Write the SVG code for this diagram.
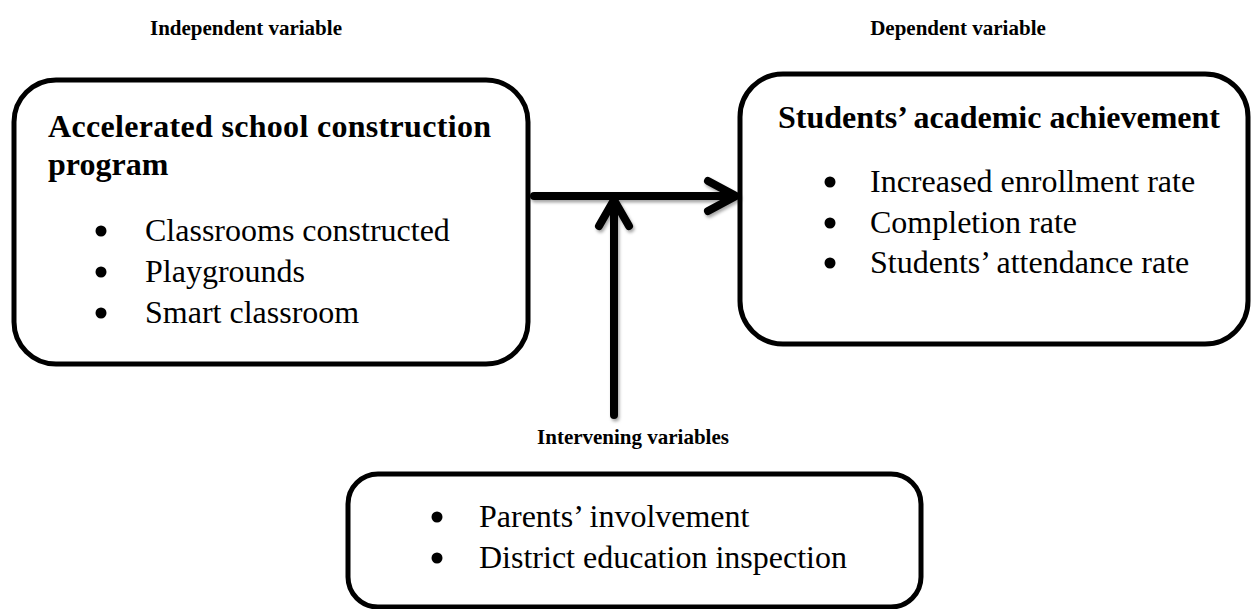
<svg xmlns="http://www.w3.org/2000/svg" width="1251" height="609" viewBox="0 0 1251 609">
<defs>
<style>
.box{fill:#fff;stroke:#000;stroke-width:5}
.hdr{font-family:"Liberation Serif",serif;font-weight:bold;font-size:21px;fill:#000}
.ttl{font-family:"Liberation Serif",serif;font-weight:bold;font-size:32px;fill:#000}
.txt{font-family:"Liberation Serif",serif;font-size:32px;fill:#000}
.arr{fill:none;stroke:#000;stroke-width:8;stroke-linecap:round;stroke-linejoin:round}
</style>
<filter id="sh" x="-20%" y="-20%" width="140%" height="140%">
<feDropShadow dx="1.5" dy="2.5" stdDeviation="1.5" flood-color="#000" flood-opacity="0.35"/>
</filter>
</defs>
<rect width="1251" height="609" fill="#fff"/>
<text class="hdr" x="246" y="35" text-anchor="middle">Independent variable</text>
<text class="hdr" x="958" y="35" text-anchor="middle">Dependent variable</text>
<g id="independent">
<rect class="box" x="14" y="80" width="514" height="284" rx="42" ry="42"/>
<text class="ttl" x="48" y="137" textLength="443" lengthAdjust="spacing">Accelerated school construction</text>
<text class="ttl" x="48" y="175">program</text>
<circle cx="101" cy="231" r="5.5"/>
<text class="txt" x="145" y="241">Classrooms constructed</text>
<circle cx="101" cy="272" r="5.5"/>
<text class="txt" x="145" y="282">Playgrounds</text>
<circle cx="101" cy="313" r="5.5"/>
<text class="txt" x="145" y="323">Smart classroom</text>
</g>
<g id="dependent">
<rect class="box" x="740" y="74" width="508" height="270" rx="43" ry="43"/>
<text class="ttl" x="778" y="128">Students’ academic achievement</text>
<circle cx="830" cy="182" r="5.5"/>
<text class="txt" x="870" y="192">Increased enrollment rate</text>
<circle cx="830" cy="223" r="5.5"/>
<text class="txt" x="870" y="233">Completion rate</text>
<circle cx="830" cy="263" r="5.5"/>
<text class="txt" x="870" y="273">Students’ attendance rate</text>
</g>
<g id="intervening">
<text class="hdr" x="633" y="444" text-anchor="middle">Intervening variables</text>
<rect class="box" x="348" y="474" width="573" height="133" rx="30" ry="30"/>
<circle cx="437" cy="517" r="5.5"/>
<text class="txt" x="479" y="527">Parents’ involvement</text>
<circle cx="437" cy="558" r="5.5"/>
<text class="txt" x="479" y="568">District education inspection</text>
</g>
<g id="connectors" filter="url(#sh)">
<path class="arr" d="M534 196 H734"/>
<path class="arr" d="M708 181 L736 196 L708 211"/>
<path class="arr" d="M614 415 V202"/>
<path class="arr" d="M599 226 L614 200 L629 226"/>
</g>
</svg>
